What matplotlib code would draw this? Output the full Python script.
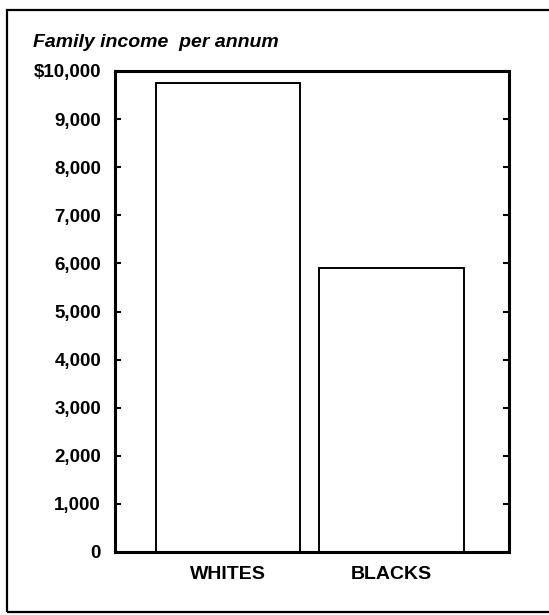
import matplotlib.pyplot as plt
from matplotlib.patches import Rectangle

# Dati
categorie = ['WHITES', 'BLACKS']
reddito = [9750, 5900]
tick_valori = [0, 1000, 2000, 3000, 4000, 5000, 6000, 7000, 8000, 9000, 10000]
tick_etichette = ['0', '1,000', '2,000', '3,000', '4,000', '5,000',
                  '6,000', '7,000', '8,000', '9,000', '$10,000']
titolo = 'Family income  per annum'

plt.rcParams['font.family'] = ['Liberation Sans', 'DejaVu Sans']

W, H = 549, 615
fig = plt.figure(figsize=(W / 100, H / 100), dpi=100)
ax = fig.add_axes([115 / W, 1 - 552 / H, (509 - 115) / W, (552 - 71) / H])

posizioni = list(range(len(categorie)))
ax.bar(posizioni, reddito, width=0.885, color='white', edgecolor='black',
       linewidth=1.4, zorder=2)

ax.set_xlim(-0.691, 1.719)
ax.set_ylim(0, 10000)

for s in ax.spines.values():
    s.set_linewidth(2.2)

ax.set_yticks(tick_valori)
ax.set_yticklabels(tick_etichette, fontsize=13.5, fontweight='bold')
ax.tick_params(axis='y', direction='in', length=4, width=1.5, pad=10,
               right=True, left=True)
ax.set_xticks(posizioni)
ax.set_xticklabels(categorie, fontsize=14, fontweight='bold')
ax.tick_params(axis='x', length=0, pad=10)

# Titolo in alto a sinistra
fig.text(33 / W, 1 - 47 / H, titolo, fontsize=14, style='italic',
         fontweight='bold', ha='left', va='baseline')

# Cornice esterna
fig.patches.append(Rectangle((7 / W, 1 - 612 / H), 1.2, (612 - 10) / H,
                             transform=fig.transFigure, fill=False,
                             edgecolor='black', linewidth=1.6))

fig.savefig('out.png', dpi=100)
